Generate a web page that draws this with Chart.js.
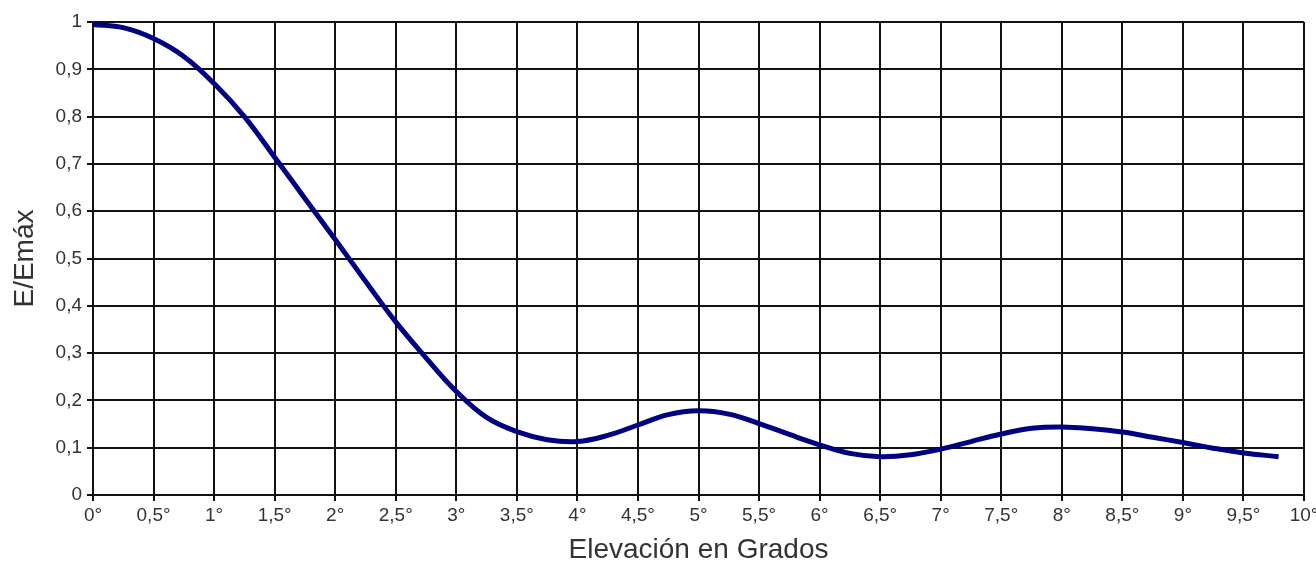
<!DOCTYPE html>
<html>
<head>
<meta charset="utf-8">
<script src="https://cdn.jsdelivr.net/npm/chart.js@4/dist/chart.umd.min.js"></script>
<style>
    html, body { margin: 0; padding: 0; background: #fff; }
    #wrap { width: 1316px; height: 563px; }
</style>
</head>
<body>
<div id="wrap"><canvas id="chart"></canvas></div>
<script>
// Elevation angle in degrees and normalised field strength E/Emax
const elevation = [0, 0.25, 0.5, 0.75, 1, 1.25, 1.5, 1.75, 2, 2.25, 2.5, 2.75, 3, 3.25, 3.5, 3.75,
    4, 4.25, 4.5, 4.75, 5, 5.25, 5.5, 5.75, 6, 6.25, 6.5, 6.75, 7, 7.25, 7.5, 7.75,
    8, 8.25, 8.5, 8.75, 9, 9.25, 9.5, 9.79];
const fieldRatio = [0.995, 0.988, 0.965, 0.927, 0.870, 0.800, 0.714, 0.627, 0.540, 0.452, 0.366, 0.290, 0.219, 0.164, 0.134, 0.117,
    0.113, 0.126, 0.148, 0.170, 0.178, 0.171, 0.151, 0.128, 0.106, 0.088, 0.081, 0.085, 0.097, 0.113, 0.129, 0.141,
    0.144, 0.140, 0.133, 0.122, 0.111, 0.099, 0.089, 0.081];

const xTitle = 'Elevación en Grados';
const yTitle = 'E/Emáx';

const fontFamily = '"Liberation Sans", Arial, sans-serif';
const textColor = '#333333';

function formatComma(v) {
    return String(Math.round(v * 10) / 10).replace('.', ',');
}

const ctx = document.getElementById('chart').getContext('2d');
const chart = new Chart(ctx, {
    type: 'line',
    data: {
        datasets: [{
            data: elevation.map((x, i) => ({ x: x, y: fieldRatio[i] })),
            borderColor: '#000080',
            borderWidth: 5,
            pointRadius: 0,
            tension: 0.4,
            fill: false
        }]
    },
    options: {
        responsive: true,
        maintainAspectRatio: false,
        animation: false,
        layout: { padding: { top: 22, right: 12, left: 0, bottom: 0 } },
        plugins: {
            legend: { display: false },
            tooltip: { enabled: false }
        },
        scales: {
            x: {
                type: 'linear',
                min: 0,
                max: 10,
                afterFit: scale => {
                    scale.height = 68;
                    scale.paddingLeft = 0;
                    scale.paddingRight = 0;
                },
                grid: { color: '#111', lineWidth: 2, tickLength: 6 },
                border: { color: '#111', width: 2 },
                ticks: {
                    stepSize: 0.5,
                    maxRotation: 0,
                    autoSkip: false,
                    padding: 3,
                    color: textColor,
                    font: { family: fontFamily, size: 19 },
                    callback: v => formatComma(v) + '°'
                },
                title: {
                    display: true,
                    text: xTitle,
                    color: textColor,
                    font: { family: fontFamily, size: 28, lineHeight: 0.9 },
                    padding: { top: 0, bottom: 0 }
                }
            },
            y: {
                min: 0,
                max: 1,
                afterFit: scale => { scale.width = 93; },
                grid: { color: '#111', lineWidth: 2, tickLength: 6 },
                border: { color: '#111', width: 2 },
                ticks: {
                    stepSize: 0.1,
                    padding: 5,
                    color: textColor,
                    font: { family: fontFamily, size: 19 },
                    callback: v => formatComma(v)
                },
                title: {
                    display: true,
                    text: yTitle,
                    color: textColor,
                    font: { family: fontFamily, size: 28 },
                    padding: { top: 8, bottom: 0 }
                }
            }
        }
    }
});
</script>
</body>
</html>
